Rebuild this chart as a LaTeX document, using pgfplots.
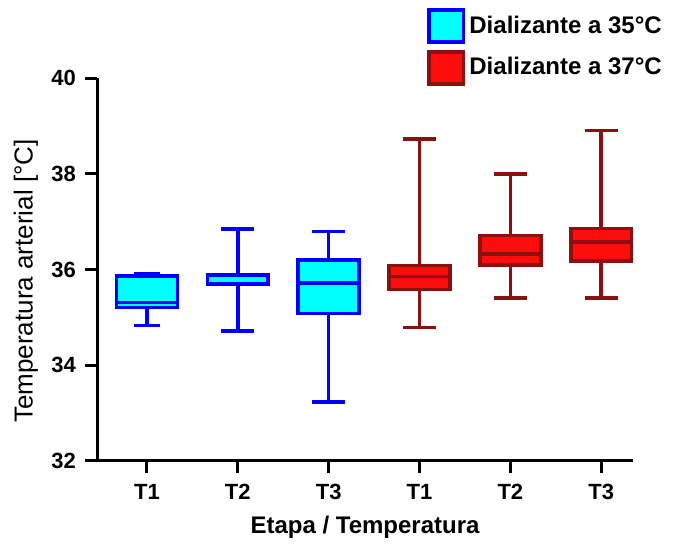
\documentclass[border=0pt]{standalone}
\usepackage{fontspec}
\setmainfont{Liberation Sans}
\usepackage{pgfplots}
\pgfplotsset{compat=1.18}
\usepgfplotslibrary{statistics}
\definecolor{bblue}{RGB}{0,0,255}
\definecolor{bcyan}{RGB}{0,255,255}
\definecolor{rdark}{RGB}{140,16,16}
\definecolor{rfill}{RGB}{255,12,12}
\begin{document}
\begin{tikzpicture}
\path[use as bounding box] (0,0) rectangle (336.5pt,272pt);
\begin{axis}[
  at={(48.5pt,41.5pt)}, anchor=south west,
  scale only axis, width=268pt, height=191.5pt,
  xmin=0.45, xmax=6.35, ymin=32, ymax=40,
  axis lines=left,
  axis line style={line width=1.5pt, -},
  xtick={1,2,3,4,5,6},
  xticklabels={T1,T2,T3,T1,T2,T3},
  ytick={32,34,36,38,40},
  tick align=outside,
  major tick length=6pt,
  tick style={line width=1.5pt, black},
  /pgf/number format/assume math mode=true,
  tick label style={font=\fontsize{11}{13}\selectfont\bfseries},
  xticklabel style={yshift=-2pt},
  yticklabel style={xshift=-1pt},
  xlabel={Etapa / Temperatura},
  ylabel={Temperatura arterial [°C]},
  xlabel style={at={(axis description cs:0.5,-0.172)}, anchor=center,
    font=\fontsize{12}{14}\selectfont\bfseries},
  ylabel style={at={(axis description cs:-0.1325,0.47)}, anchor=center,
    font=\fontsize{13}{15}\selectfont},
  boxplot/draw direction=y,
  boxplot/box extend=0.67,
  boxplot/whisker extend=0.36,
  legend style={at={(axis description cs:0.6157,1.183)}, anchor=north west,
    draw=none, fill=none, inner sep=0pt, row sep=3pt,
    font=\fontsize{12}{14}\selectfont\bfseries},
  legend cell align=left,
]
\addplot[forget plot, draw=bblue, fill=bcyan, line width=1.8pt, boxplot/whisker extend=0.28,
  boxplot prepared={draw position=1, lower whisker=34.83, lower quartile=35.21,
  median=35.31, upper quartile=35.86, upper whisker=35.92}] coordinates {};
\addplot[forget plot, draw=bblue, fill=bcyan, line width=1.8pt,
  boxplot prepared={draw position=2, lower whisker=34.72, lower quartile=35.69,
  median=35.71, upper quartile=35.88, upper whisker=36.84}] coordinates {};
\addplot[forget plot, draw=bblue, fill=bcyan, line width=1.8pt,
  boxplot prepared={draw position=3, lower whisker=33.23, lower quartile=35.08,
  median=35.72, upper quartile=36.20, upper whisker=36.79}] coordinates {};
\addplot[forget plot, draw=rdark, fill=rfill, line width=1.8pt,
  boxplot prepared={draw position=4, lower whisker=34.79, lower quartile=35.58,
  median=35.85, upper quartile=36.08, upper whisker=38.72}] coordinates {};
\addplot[forget plot, draw=rdark, fill=rfill, line width=1.8pt,
  boxplot prepared={draw position=5, lower whisker=35.40, lower quartile=36.09,
  median=36.32, upper quartile=36.71, upper whisker=37.99}] coordinates {};
\addplot[forget plot, draw=rdark, fill=rfill, line width=1.8pt,
  boxplot prepared={draw position=6, lower whisker=35.40, lower quartile=36.18,
  median=36.58, upper quartile=36.86, upper whisker=38.90}] coordinates {};
\addlegendimage{legend image code/.code={\draw[draw=bblue, fill=bcyan, line width=1.8pt] (0.9pt,-8pt) rectangle (18.1pt,8pt);}}
\addlegendentry{Dializante a 35°C}
\addlegendimage{legend image code/.code={\draw[draw=rdark, fill=rfill, line width=1.8pt] (0.9pt,-8pt) rectangle (18.1pt,8pt);}}
\addlegendentry{Dializante a 37°C}
\end{axis}
\end{tikzpicture}
\end{document}
